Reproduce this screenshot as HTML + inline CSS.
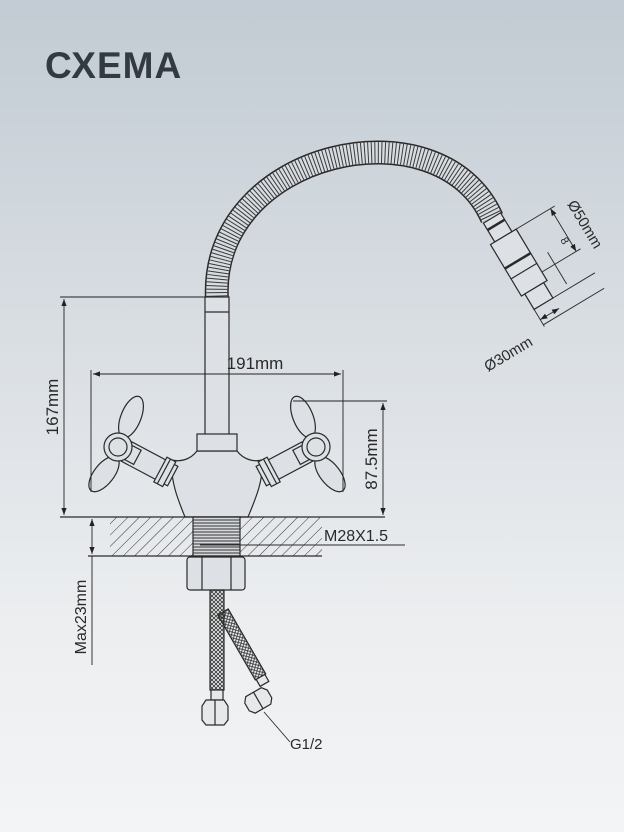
<!DOCTYPE html>
<html><head><meta charset="utf-8"><style>
html,body{margin:0;padding:0}
body{width:624px;height:832px;overflow:hidden;background:linear-gradient(#c2cbd3 0%,#d9dee3 40%,#eceef0 75%,#f3f4f5 100%);}
svg{position:absolute;left:0;top:0}
</style></head><body>
<svg width="624" height="832" viewBox="0 0 624 832" xmlns="http://www.w3.org/2000/svg" font-family="Liberation Sans, DejaVu Sans, sans-serif">
<defs>
<pattern id="hatch" width="8" height="8" patternUnits="userSpaceOnUse" patternTransform="rotate(45)">
<line x1="0" y1="0" x2="0" y2="8" stroke="#333" stroke-width="1"/></pattern>
<pattern id="thr" width="4" height="3" patternUnits="userSpaceOnUse"><line x1="0" y1="1" x2="4" y2="1" stroke="#333" stroke-width="1"/></pattern>
<pattern id="braid" width="4" height="4" patternUnits="userSpaceOnUse"><path d="M0 0 L4 4 M4 0 L0 4" stroke="#333" stroke-width="0.8"/></pattern>
<marker id="ar" markerWidth="8" markerHeight="6" refX="8" refY="3" orient="auto-start-reverse"><path d="M0 0 L8 3 L0 6 z" fill="#222"/></marker>
<g id="handle">
<g transform="translate(118,447) rotate(28)"><rect x="10" y="-11" width="52" height="22" fill="#dde1e5"/><rect x="10" y="-8" width="12" height="16" fill="#dde1e5"/><rect x="48" y="-14" width="10" height="28" fill="#dde1e5"/><line x1="52" y1="-14" x2="52" y2="14"/></g>
<ellipse cx="131" cy="417" rx="10" ry="22" transform="rotate(22 131 417)" fill="#dde1e5"/>
<ellipse cx="104" cy="474" rx="10" ry="21" transform="rotate(38 104 474)" fill="#dde1e5"/>
<circle cx="118" cy="447" r="14" fill="#dde1e5"/><circle cx="118" cy="447" r="9"/>
</g>
</defs>
<text x="45" y="78" font-size="37" font-weight="bold" fill="#343a42" letter-spacing="1">СХЕМА</text>

<g fill="none" stroke="#2a2a2a" stroke-width="1.2">
<path d="M217,300 C208,150 440,100 492,218" stroke="#2a2a2a" stroke-width="24"/>
<path d="M217,300 C208,150 440,100 492,218" stroke="#d7dce1" stroke-width="21"/>
<path d="M217,300 C208,150 440,100 492,218" stroke="#3a3a3a" stroke-width="21" stroke-dasharray="1 2.4"/>
<rect x="205" y="297" width="24" height="138" fill="#dde1e5"/>
<line x1="205" y1="312" x2="229" y2="312"/>
<path d="M197,451 C190,460 180,462 172,460 C170,480 178,500 185,517 L248,517 C255,500 264,480 262,460 C254,462 244,460 237,451 Z" fill="#dde1e5"/>
<rect x="197" y="434" width="40" height="17" fill="#dde1e5"/>
<use href="#handle"/>
<use href="#handle" transform="translate(434,0) scale(-1,1)"/>
<g transform="translate(492,218) rotate(-31)">
<rect x="-10" y="0" width="20" height="22" fill="#dde1e5"/>
<line x1="-10" y1="8" x2="10" y2="8" stroke-width="2.5"/>
<rect x="-15" y="22" width="30" height="60" fill="#dde1e5"/>
<line x1="-15" y1="50" x2="15" y2="50" stroke-width="2.5"/>
<line x1="-15" y1="62" x2="15" y2="62"/>
<rect x="-11" y="82" width="22" height="18" fill="#dde1e5"/>
<line x1="15" y1="22" x2="60" y2="22" stroke-width="0.9"/>
<line x1="15" y1="72" x2="60" y2="72" stroke-width="0.9"/>
<line x1="55" y1="22" x2="55" y2="72" stroke-width="0.9" marker-start="url(#ar)" marker-end="url(#ar)"/>
<line x1="11" y1="100" x2="60" y2="100" stroke-width="0.9"/>
<line x1="-11" y1="100" x2="-11" y2="120" stroke-width="0.9"/>
<line x1="-11" y1="118" x2="60" y2="118" stroke-width="0.9"/>
<line x1="-11" y1="112" x2="11" y2="112" stroke-width="0.9" marker-start="url(#ar)" marker-end="url(#ar)"/>
<line x1="30" y1="58" x2="30" y2="95" stroke-width="0.9"/>
</g>
<rect x="110" y="517" width="212" height="39" fill="url(#hatch)" stroke="none"/>
<rect x="193" y="517" width="47" height="39" fill="#d5d9dd" stroke="none"/>
<rect x="193" y="517" width="47" height="39" fill="url(#thr)"/>
<line x1="60" y1="517" x2="385" y2="517"/>
<line x1="88" y1="556" x2="322" y2="556"/>
<line x1="200" y1="545" x2="405" y2="545" stroke-width="0.9"/>
<rect x="187" y="557" width="58" height="33" rx="3" fill="#dde1e5"/>
<line x1="202" y1="557" x2="202" y2="590"/><line x1="231" y1="557" x2="231" y2="590"/>
<g transform="translate(223,612) rotate(-30)"><rect x="-6" y="0" width="12" height="75" fill="url(#braid)"/><rect x="-5" y="75" width="10" height="8" fill="#e6e8ea"/></g>
<rect x="210" y="590" width="14" height="100" fill="url(#braid)"/>
<rect x="211" y="690" width="12" height="10" fill="#e6e8ea"/>
<path d="M206,700 h18 l4,6 v14 l-4,5 h-18 l-4,-5 v-14 z" fill="#e6e8ea"/><line x1="215" y1="700" x2="215" y2="725"/>
<g transform="translate(258,700) rotate(-30)"><path d="M-9,-9 h18 l4,5 v9 l-4,5 h-18 l-4,-5 v-9 z" fill="#e6e8ea"/><line x1="0" y1="-9" x2="0" y2="10"/></g>
<line x1="264" y1="712" x2="290" y2="742" stroke-width="0.9"/>
</g>

<g stroke="#222" stroke-width="0.9" fill="none">
<line x1="60" y1="297" x2="207" y2="297"/>
<line x1="64" y1="299" x2="64" y2="515" marker-start="url(#ar)" marker-end="url(#ar)"/>
<line x1="91" y1="370" x2="91" y2="492"/><line x1="343" y1="370" x2="343" y2="492"/>
<line x1="93" y1="374" x2="341" y2="374" marker-start="url(#ar)" marker-end="url(#ar)"/>
<line x1="293" y1="401" x2="387" y2="401"/>
<line x1="383" y1="403" x2="383" y2="515" marker-start="url(#ar)" marker-end="url(#ar)"/>
<line x1="92" y1="519" x2="92" y2="554" marker-start="url(#ar)" marker-end="url(#ar)"/>
<line x1="92" y1="556" x2="92" y2="665"/>
</g>
<g fill="#2a2a2a" font-size="17">
<text x="255" y="369" text-anchor="middle">191mm</text>
<text transform="translate(58,407) rotate(-90)" text-anchor="middle">167mm</text>
<text transform="translate(377,459) rotate(-90)" text-anchor="middle">87.5mm</text>
<text x="324" y="541" font-size="16">M28X1.5</text>
<text transform="translate(86,617) rotate(-90)" text-anchor="middle" font-size="16">Max23mm</text>
<text x="290" y="749" font-size="15">G1/2</text>
<text transform="translate(567,204) rotate(59)" font-size="15">Ø50mm</text>
<text transform="translate(560,240) rotate(59)" font-size="11">8</text>
<text transform="translate(488,372) rotate(-31)" font-size="15">Ø30mm</text>
</g>
</svg>
</body></html>
